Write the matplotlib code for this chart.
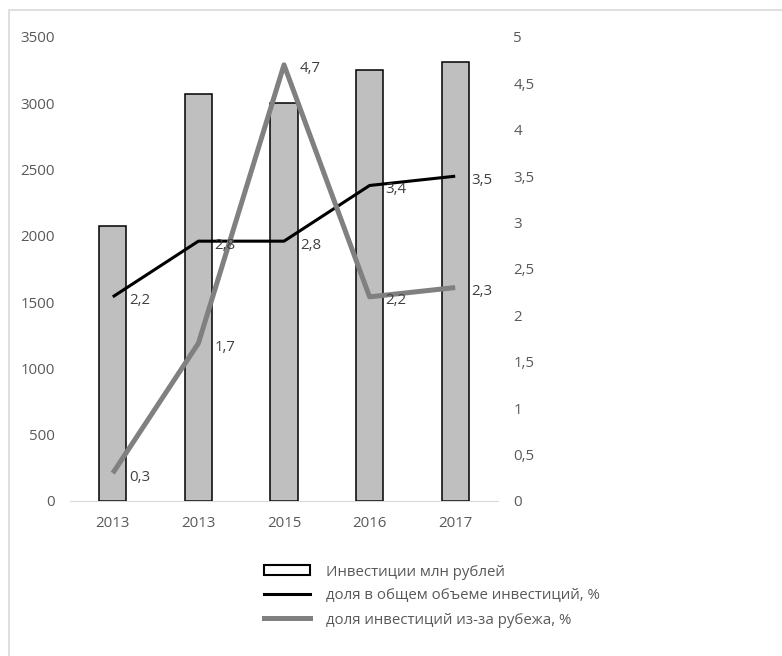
import numpy as np
import matplotlib.pyplot as plt
from matplotlib.patches import Patch, Rectangle
from matplotlib.lines import Line2D
from matplotlib.ticker import FuncFormatter

plt.rcParams['font.family'] = ['Open Sans', 'DejaVu Sans']

# a. data
years = ['2013', '2013', '2015', '2016', '2017']
invest = [2075, 3070, 3000, 3250, 3310]
share_total = [2.2, 2.8, 2.8, 3.4, 3.5]
share_foreign = [0.3, 1.7, 4.7, 2.2, 2.3]
labels = ['Инвестиции млн рублей',
          'доля в общем объеме инвестиций, %',
          'доля инвестиций из-за рубежа, %']

txt = '#595959'
fs = 10.8

def comma(v, pos):
    s = f'{v:g}'
    return s.replace('.', ',')

# b. figure
fig = plt.figure(figsize=(7.82, 6.56), dpi=100)
fig.patches.append(Rectangle((9/782, -0.1), 1.2, 1 - 10/656 + 0.1,
                             transform=fig.transFigure, fill=False,
                             edgecolor='#d9d9d9', lw=1.2))
ax = fig.add_axes([70/782, 1 - 501/656, 428/782, 464/656])
x = np.arange(len(years))
ax.bar(x, invest, width=0.32, color='#bfbfbf', edgecolor='black', lw=1.1)
ax.set_xlim(-0.5, len(years) - 0.5)
ax.set_ylim(0, 3500)
ax.set_yticks(np.arange(0, 3501, 500))
ax.set_xticks(x)
ax.set_xticklabels(years)
ax.tick_params(length=0, labelsize=fs, labelcolor=txt)
ax.tick_params(axis='y', pad=11)
ax.tick_params(axis='x', pad=11)
for s in ['top', 'right', 'left']:
    ax.spines[s].set_visible(False)
ax.spines['bottom'].set_color('#d9d9d9')

ax2 = ax.twinx()
ax2.plot(x, share_total, color='black', lw=2.2, solid_capstyle='butt')
ax2.plot(x, share_foreign, color='#808080', lw=3.6, solid_capstyle='butt')
ax2.set_ylim(0, 5)
ax2.set_yticks(np.arange(0, 5.01, 0.5))
ax2.yaxis.set_major_formatter(FuncFormatter(comma))
ax2.tick_params(length=0, labelsize=fs, labelcolor=txt, pad=11)
for s in ['top', 'right', 'left', 'bottom']:
    ax2.spines[s].set_visible(False)

# c. data labels
for xi, v in zip(x, share_total):
    ax2.annotate(comma(v, None), (xi, v), xytext=(16, -4), textcoords='offset pixels',
                 ha='left', va='center', fontsize=fs, color='#404040')
for xi, v in zip(x, share_foreign):
    ax2.annotate(comma(v, None), (xi, v), xytext=(16, -4), textcoords='offset pixels',
                 ha='left', va='center', fontsize=fs, color='#404040')

# d. legend
handles = [Patch(facecolor='white', edgecolor='black', lw=1.5),
           Line2D([], [], color='black', lw=2.2),
           Line2D([], [], color='#808080', lw=3.6)]
leg = fig.legend(handles, labels, loc='upper left', bbox_to_anchor=(250/782, 1 - 551/656),
                 frameon=False, fontsize=fs, handlelength=3.1, handletextpad=1.1,
                 labelspacing=0.6, handleheight=0.6)
for t in leg.get_texts():
    t.set_color(txt)

fig.savefig('out.png', dpi=100)
